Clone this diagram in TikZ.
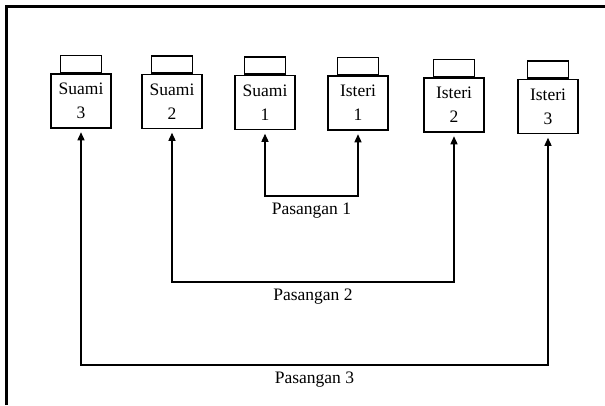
\documentclass[tikz,border=0pt]{standalone}
\usepackage{fontspec}
\setmainfont{Liberation Serif}
\usetikzlibrary{positioning,arrows.meta,calc}
\tikzstyle{person}=[draw,line width=1.5pt,minimum width=60pt,minimum height=54pt,
                    inner sep=0pt,align=center,font=\fontsize{17.5}{24}\selectfont]
\tikzstyle{tab}=[draw,line width=1.5pt,minimum width=41pt,minimum height=17pt,inner sep=0pt]
\tikzstyle{pair}=[<->,>={Triangle[length=8pt,width=7pt]},line width=1.3pt,
                  shorten <=3.5pt,shorten >=3.5pt]
\tikzstyle{pairlabel}=[below=3pt,font=\fontsize{17.5}{20}\selectfont]

\begin{document}
\begin{tikzpicture}[x=1pt,y=-1pt]

  % Page margins (pixels of the scan)
  \useasboundingbox (0,0) rectangle (605,405);

  % Frame (only left and top edge show)
  \draw[line width=3pt] (6,405) -- (6,6) -- (605,6);

  % Husbands and wives
  \node[person] at (81,101)  (s3) {Suami\\3};
  \node[person] at (172,101.5) (s2) {Suami\\2};
  \node[person] at (265,102.5) (s1) {Suami\\1};
  \node[person] at (358,103) (i1) {Isteri\\1};
  \node[person] at (454,105) (i2) {Isteri\\2};
  \node[person] at (548,106.5) (i3) {Isteri\\3};

  % Tabs on top of the boxes
  \foreach \who in {s3,s2,s1,i1,i2,i3}
    \node[tab, above=0pt of \who] (tab\who) {};

  % Couples
  \coordinate (c1) at (0,196);
  \coordinate (c2) at (0,282);
  \coordinate (c3) at (0,365);

  \draw[pair] (s1.south) -- (s1.south |- c1) -- (i1.south |- c1) -- (i1.south);
  \draw[pair] (s2.south) -- (s2.south |- c2) -- (i2.south |- c2) -- (i2.south);
  \draw[pair] (s3.south) -- (s3.south |- c3) -- (i3.south |- c3) -- (i3.south);

  % Labels
  \node[pairlabel] at ($(s1.south |- c1)!0.5!(i1.south |- c1)$) (lbl1) {Pasangan 1};
  \node[pairlabel] at ($(s2.south |- c2)!0.5!(i2.south |- c2)$) (lbl2) {Pasangan 2};
  \node[pairlabel] at ($(s3.south |- c3)!0.5!(i3.south |- c3)$) (lbl3) {Pasangan 3};

\end{tikzpicture}
\end{document}
